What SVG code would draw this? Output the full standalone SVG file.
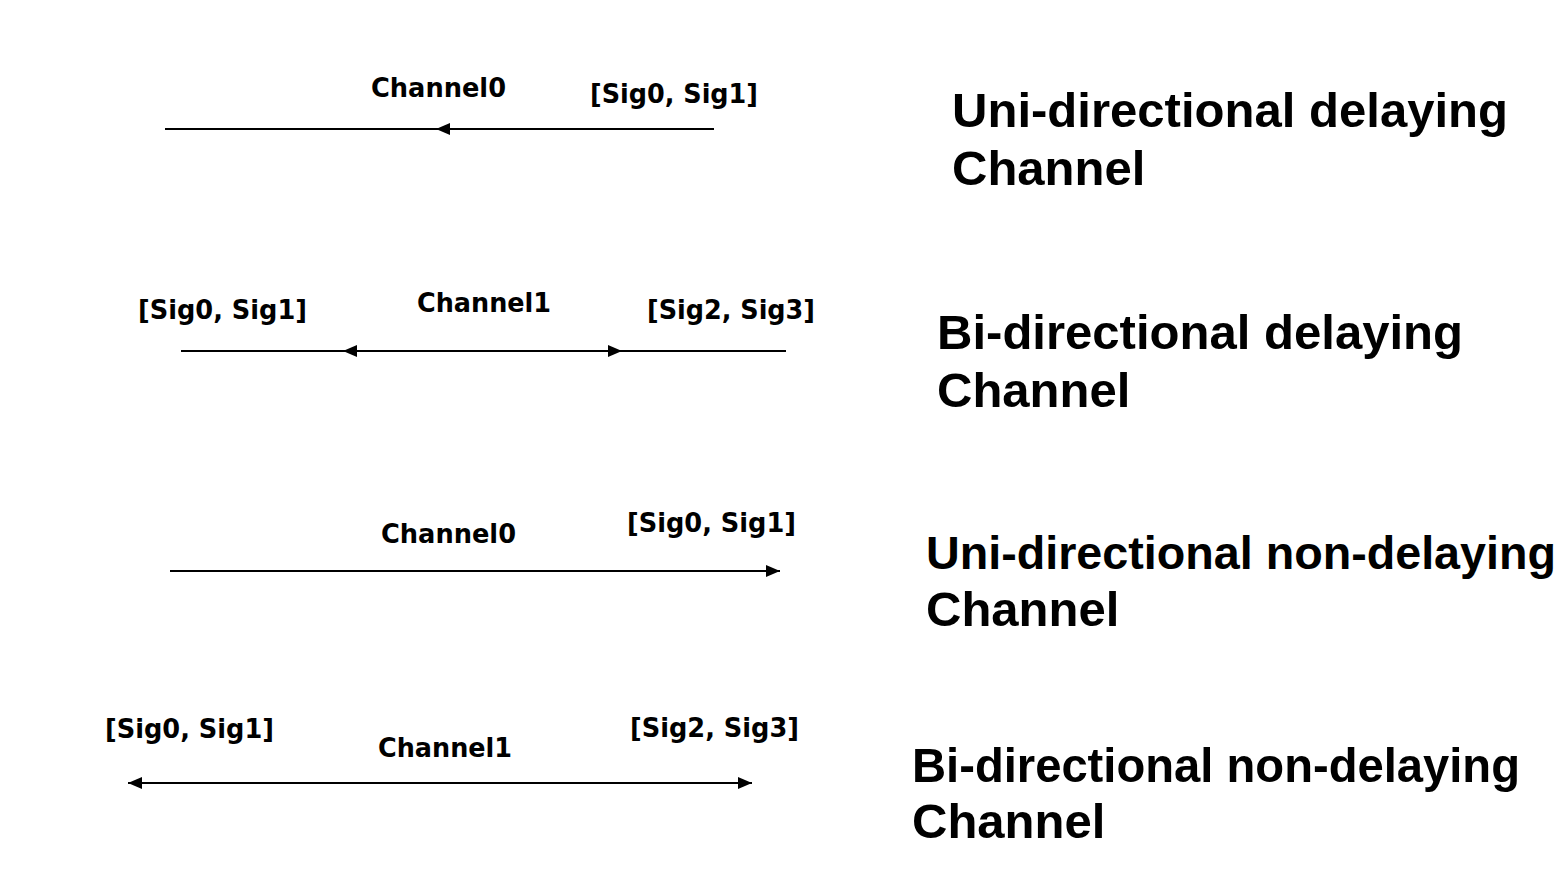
<svg xmlns="http://www.w3.org/2000/svg" width="1565" height="875" viewBox="0 0 1565 875">
<style>
.lbl{font-family:"DejaVu Sans",Verdana,sans-serif;font-weight:bold;font-size:26px;fill:#000}
.big{font-family:"Liberation Sans",Arial,sans-serif;font-weight:bold;font-size:49px;fill:#000}
.ln{stroke:#000;stroke-width:2.2;fill:none}
</style>
<defs>
<marker id="ah" viewBox="0 0 14 12" refX="14" refY="6" markerWidth="14" markerHeight="12" markerUnits="userSpaceOnUse" orient="auto-start-reverse">
<path d="M0,0 L14,6 L0,12 Z" fill="#000"/>
</marker>
</defs>
<rect width="1565" height="875" fill="#fff"/>
<g id="connectors">
<line class="ln" x1="165" y1="129" x2="436" y2="129"/>
<line class="ln" x1="714" y1="129" x2="436" y2="129" marker-end="url(#ah)"/>
<line class="ln" x1="181" y1="351" x2="343" y2="351"/>
<line class="ln" x1="343" y1="351" x2="622" y2="351" marker-start="url(#ah)" marker-end="url(#ah)"/>
<line class="ln" x1="622" y1="351" x2="786" y2="351"/>
<line class="ln" x1="170" y1="571" x2="780" y2="571" marker-end="url(#ah)"/>
<line class="ln" x1="128" y1="783" x2="752" y2="783" marker-start="url(#ah)" marker-end="url(#ah)"/>
</g>
<g id="row1">
<text class="lbl" x="371" y="97" textLength="135" lengthAdjust="spacingAndGlyphs">Channel0</text>
<text class="lbl" x="590" y="103" textLength="168" lengthAdjust="spacingAndGlyphs">[Sig0, Sig1]</text>
<text class="big" x="952" y="127" textLength="556" lengthAdjust="spacingAndGlyphs">Uni-directional delaying</text>
<text class="big" x="952" y="185">Channel</text>
</g>
<g id="row2">
<text class="lbl" x="138" y="319" textLength="169" lengthAdjust="spacingAndGlyphs">[Sig0, Sig1]</text>
<text class="lbl" x="417" y="312" textLength="134" lengthAdjust="spacingAndGlyphs">Channel1</text>
<text class="lbl" x="647" y="319" textLength="168" lengthAdjust="spacingAndGlyphs">[Sig2, Sig3]</text>
<text class="big" x="937" y="349" textLength="526" lengthAdjust="spacingAndGlyphs">Bi-directional delaying</text>
<text class="big" x="937" y="407">Channel</text>
</g>
<g id="row3">
<text class="lbl" x="381" y="543" textLength="135" lengthAdjust="spacingAndGlyphs">Channel0</text>
<text class="lbl" x="627" y="532" textLength="169" lengthAdjust="spacingAndGlyphs">[Sig0, Sig1]</text>
<text class="big" x="926" y="569" style="font-size:46.5px" textLength="630" lengthAdjust="spacingAndGlyphs">Uni-directional non-delaying</text>
<text class="big" x="926" y="626">Channel</text>
</g>
<g id="row4">
<text class="lbl" x="105" y="738" textLength="169" lengthAdjust="spacingAndGlyphs">[Sig0, Sig1]</text>
<text class="lbl" x="378" y="757" textLength="134" lengthAdjust="spacingAndGlyphs">Channel1</text>
<text class="lbl" x="630" y="737" textLength="169" lengthAdjust="spacingAndGlyphs">[Sig2, Sig3]</text>
<text class="big" x="912" y="782" textLength="608" lengthAdjust="spacingAndGlyphs">Bi-directional non-delaying</text>
<text class="big" x="912" y="838">Channel</text>
</g>
</svg>
